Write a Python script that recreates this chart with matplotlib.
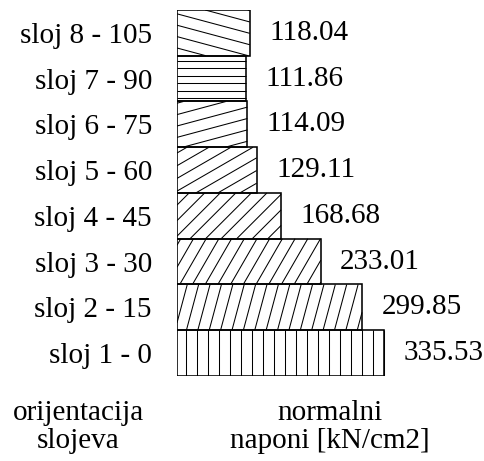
import matplotlib
matplotlib.use("Agg")
import matplotlib.pyplot as plt
import numpy as np
from matplotlib.collections import LineCollection

plt.rcParams["font.family"] = ["Liberation Serif", "DejaVu Serif"]

# ---- data -----------------------------------------------------------------
LAYERS = ["sloj 1 - 0", "sloj 2 - 15", "sloj 3 - 30", "sloj 4 - 45",
          "sloj 5 - 60", "sloj 6 - 75", "sloj 7 - 90", "sloj 8 - 105"]
ANGLES = [0, 15, 30, 45, 60, 75, 90, 105]          # fibre orientation, deg
STRESS = [335.53, 299.85, 233.01, 168.68, 129.11, 114.09, 111.86, 118.04]

# ---- style ----------------------------------------------------------------
W, H, DPI = 485, 461, 100
FS = 21
HATCH_GAP = 11.0   # px between hatch lines
FLAT_GAP = 7.5     # horizontal hatch is packed tighter


def clip_segment(p, q, x0, y0, x1, y1):
    """Liang-Barsky clip of segment p-q to a box; None if outside."""
    dx, dy = q[0] - p[0], q[1] - p[1]
    t0, t1 = 0.0, 1.0
    for pk, qk in ((-dx, p[0] - x0), (dx, x1 - p[0]),
                   (-dy, p[1] - y0), (dy, y1 - p[1])):
        if pk == 0:
            if qk < 0:
                return None
            continue
        r = qk / pk
        if pk < 0:
            t0 = max(t0, r)
        else:
            t1 = min(t1, r)
    if t0 >= t1:
        return None
    return [(p[0] + t0 * dx, p[1] + t0 * dy), (p[0] + t1 * dx, p[1] + t1 * dy)]


def hatch_bar(ax, bar, angle, gap):
    """Fill a bar with parallel lines rotated `angle` deg from vertical."""
    bb = bar.get_window_extent()
    x0, y0, x1, y1 = bb.x0, bb.y0, bb.x1, bb.y1
    th = np.deg2rad(angle)
    d = np.array([np.sin(th), np.cos(th)])       # line direction (px)
    n = np.array([-d[1], d[0]])                  # normal
    c0 = np.array([x0, y0])
    half = np.hypot(x1 - x0, y1 - y0) + gap
    inv = ax.transData.inverted()
    segs = []
    for k in np.arange(-half, half, gap):
        c = c0 + (k + gap / 2) * n
        s = clip_segment(c - half * d, c + half * d, x0, y0, x1, y1)
        if s is not None:
            segs.append(inv.transform(np.array(s)))
    lc = LineCollection(segs, colors="black", linewidths=0.75, zorder=3)
    ax.add_collection(lc, autolim=False)


fig = plt.figure(figsize=(W / DPI, H / DPI), dpi=DPI)
ax = fig.add_axes([177 / W, 1 - 376 / H, 308 / W, 366 / H])
ax.set_xlim(0, 308 / 0.617)
ax.set_ylim(-0.5, len(LAYERS) - 0.5)

y = np.arange(len(LAYERS))
bars = ax.barh(y, STRESS, height=1.0, color="none", edgecolor="black",
               linewidth=1.15, zorder=4)
fig.canvas.draw()
for b, a in zip(bars, ANGLES):
    hatch_bar(ax, b, a, FLAT_GAP if a == 90 else HATCH_GAP)

for yi, v in zip(y, STRESS):
    ax.annotate(f"{v:.2f}", (v, yi), xytext=(14, 0),
                textcoords="offset points", va="center", ha="left",
                fontsize=FS)

ax.set_yticks(y)
ax.set_yticklabels(LAYERS, fontsize=FS)
ax.tick_params(axis="y", length=0, pad=18)
ax.set_xticks([])
for s in ax.spines.values():
    s.set_visible(False)

fig.text(78 / W, 1 - 413 / H, "orijentacija", ha="center", va="center",
         fontsize=FS)
fig.text(78 / W, 1 - 441 / H, "slojeva", ha="center", va="center",
         fontsize=FS)
fig.text(330 / W, 1 - 413 / H, "normalni", ha="center", va="center",
         fontsize=FS)
fig.text(330 / W, 1 - 441 / H, "naponi [kN/cm2]", ha="center",
         va="center", fontsize=FS)

fig.savefig("out.png", dpi=DPI)
